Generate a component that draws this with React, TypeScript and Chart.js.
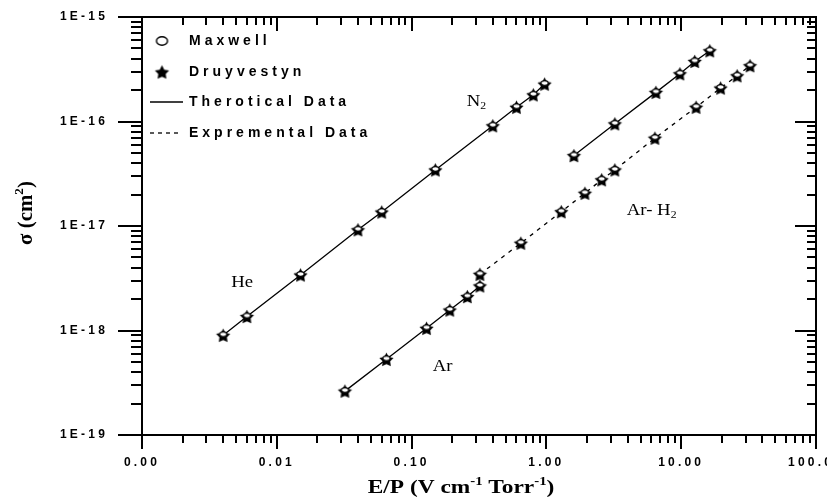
import React, { useEffect, useRef } from 'react';
import { Chart, registerables } from 'chart.js';

Chart.register(...registerables);

// ---- axis ticks ----
const xTickValues = [0.001, 0.01, 0.1, 1, 10, 100];
const xTickLabels = ['0.00', '0.01', '0.10', '1.00', '10.00', '100.00'];
const yTickValues = [1e-19, 1e-18, 1e-17, 1e-16, 1e-15];
const yTickLabels = ['1E-19', '1E-18', '1E-17', '1E-16', '1E-15'];

// ---- series (E/P, sigma) ----
const heN2X = [0.004, 0.006, 0.015, 0.04, 0.06, 0.15, 0.4, 0.6, 0.8, 0.97];
const heN2Y = [9.0e-19, 1.36e-18, 3.4e-18, 9.2e-18, 1.36e-17, 3.44e-17, 9.1e-17, 1.37e-16, 1.8e-16, 2.28e-16];
const arX = [0.032, 0.065, 0.129, 0.192, 0.259, 0.321];
const arY = [2.63e-19, 5.3e-19, 1.05e-18, 1.57e-18, 2.11e-18, 2.67e-18];
const arH2X = [0.321, 0.646, 1.29, 1.93, 2.57, 3.22, 6.38, 12.9, 19.6, 26, 32.4];
const arH2Y = [3.45e-18, 6.85e-18, 1.37e-17, 2.06e-17, 2.77e-17, 3.44e-17, 6.93e-17, 1.37e-16, 2.09e-16, 2.74e-16, 3.42e-16];
const upperX = [1.6, 3.22, 6.49, 9.78, 12.6, 16.3];
const upperY = [4.72e-17, 9.5e-17, 1.9e-16, 2.86e-16, 3.76e-16, 4.75e-16];

// ---- legend & annotations ----
const legendLabels = ['Maxwell', 'Druyvestyn', 'Therotical Data', 'Expremental Data'];
const gasNames = ['He', 'N', 'Ar', 'Ar- H'];
const gasSubs = ['', '2', '', '2'];
const gasX = [0.0046, 0.256, 0.1436, 3.95];
const gasY = [2.61e-18, 1.41e-16, 4.09e-19, 1.28e-17];

const SERIF = '"Liberation Serif", "Times New Roman", serif';
const SANS = '"Liberation Sans", Arial, sans-serif';

function isDecade(v: number) {
  const l = Math.log10(v);
  return Math.abs(l - Math.round(l)) < 1e-6;
}
function buildLogTicks(e0: number, e1: number) {
  const t: any[] = [];
  for (let e = e0; e <= e1; e++) {
    for (let s = 1; s <= 9; s++) {
      if (e === e1 && s > 1) break;
      const v = Number((s * Math.pow(10, e)).toPrecision(6));
      t.push({ value: v, major: s === 1 });
    }
  }
  return t;
}
function labelFor(v: number, vals: number[], labs: string[]) {
  for (let i = 0; i < vals.length; i++) {
    if (Math.abs(Math.log10(v) - Math.log10(vals[i])) < 1e-6) return labs[i];
  }
  return '';
}

function makeStar(r: number, inner: number) {
  const size = Math.ceil(r * 2 + 2);
  const c = document.createElement('canvas');
  c.width = size; c.height = size;
  const g = c.getContext('2d')!;
  g.translate(size / 2, size / 2 + 0.8);
  g.beginPath();
  for (let i = 0; i < 10; i++) {
    const rad = i % 2 === 0 ? r : inner;
    const a = -Math.PI / 2 + (i * Math.PI) / 5;
    const px = rad * Math.cos(a), py = rad * Math.sin(a);
    if (i === 0) g.moveTo(px, py); else g.lineTo(px, py);
  }
  g.closePath();
  g.fillStyle = '#000';
  g.fill();
  return c;
}
function makeEllipse(rx: number, ry: number, lw: number, dy: number) {
  const w = Math.ceil(rx * 2 + lw + 2), h = Math.ceil(ry * 2 + lw + 2 + Math.abs(dy) * 2);
  const c = document.createElement('canvas');
  c.width = w; c.height = h;
  const g = c.getContext('2d')!;
  g.beginPath();
  g.ellipse(w / 2, h / 2 + dy, rx, ry, 0, 0, Math.PI * 2);
  g.fillStyle = '#fff';
  g.fill();
  g.lineWidth = lw;
  g.strokeStyle = '#000';
  g.stroke();
  return c;
}

type Seg = { t: string; k?: 'sup' | 'sub' };
function drawRich(ctx: any, segs: Seg[], x: number, y: number, size: number, weight: string,
  sx: number, sy: number, align: 'left' | 'center') {
  const fMain = `${weight} ${size}px ${SERIF}`;
  const fSmall = `${weight} ${Math.round(size * 0.65)}px ${SERIF}`;
  let w = 0;
  const widths: number[] = [];
  for (const s of segs) {
    ctx.font = s.k ? fSmall : fMain;
    const m = ctx.measureText(s.t).width;
    widths.push(m);
    w += m;
  }
  ctx.save();
  ctx.translate(x, y);
  ctx.scale(sx, sy);
  ctx.textBaseline = 'alphabetic';
  ctx.textAlign = 'left';
  ctx.fillStyle = '#000';
  let cx = align === 'center' ? -w / 2 : 0;
  segs.forEach((s, i) => {
    ctx.font = s.k ? fSmall : fMain;
    const dy = s.k === 'sup' ? -size * 0.42 : s.k === 'sub' ? size * 0.22 : 0;
    ctx.fillText(s.t, cx, dy);
    cx += widths[i];
  });
  ctx.restore();
}

export default function App() {
  const ref = useRef<HTMLCanvasElement | null>(null);

  useEffect(() => {
    const canvas = ref.current;
    if (!canvas) return;
    const star = makeStar(7.5, 3.9);
    const oval = makeEllipse(3.6, 2.3, 1.2, -1);
    const legendOval = makeEllipse(5.5, 4.2, 1.4, 0);

    const series = [
      { xs: heN2X, ys: heN2Y, dash: [] as number[] },
      { xs: arX, ys: arY, dash: [] as number[] },
      { xs: arH2X, ys: arH2Y, dash: [4, 5] },
      { xs: upperX, ys: upperY, dash: [] as number[] },
    ];
    const datasets: any[] = [];
    series.forEach((s) => {
      const pts = s.xs.map((x, i) => ({ x, y: s.ys[i] }));
      datasets.push({
        data: pts, showLine: true, borderColor: '#000', borderWidth: 1.3, borderDash: s.dash,
        pointStyle: star, pointRadius: 5, order: 2,
      });
      datasets.push({
        data: pts, showLine: false, pointStyle: oval, pointRadius: 5, order: 1,
      });
    });

    const decor = {
      id: 'decor',
      beforeDraw(chart: any) { chart.ctx.letterSpacing = '3.2px'; },
      beforeDatasetsDraw(chart: any) { chart.ctx.letterSpacing = '0px'; },
      afterDraw(chart: any) {
        const ctx = chart.ctx;
        const { left, right, top, bottom } = chart.chartArea;
        const xs = chart.scales.x, ys = chart.scales.y;
        ctx.save();
        ctx.letterSpacing = '0px';
        ctx.strokeStyle = '#000';
        ctx.lineWidth = 2;
        const line = (a: number, b: number, c: number, d: number) => {
          ctx.beginPath(); ctx.moveTo(a, b); ctx.lineTo(c, d); ctx.stroke();
        };
        xs.ticks.forEach((t: any) => {
          const p = Math.round(xs.getPixelForValue(t.value));
          const mj = isDecade(t.value);
          line(p, bottom, p, bottom + (mj ? 14 : 8));
          line(p, top, p, top + (mj ? 14 : 8));
        });
        ys.ticks.forEach((t: any) => {
          const p = Math.round(ys.getPixelForValue(t.value));
          const mj = isDecade(t.value);
          line(left - (mj ? 24 : 11), p, left, p);
          line(right, p, right - (mj ? 21 : 9), p);
        });
        ctx.strokeRect(left, top, right - left, bottom - top);

        // legend
        const lx = left + 8;
        ctx.drawImage(legendOval, lx + 12 - legendOval.width / 2, 41 - legendOval.height / 2);
        ctx.drawImage(star, lx + 12 - star.width / 2, 72 - star.height / 2);
        ctx.lineWidth = 1.3;
        line(lx, 102, lx + 33, 102);
        ctx.setLineDash([4, 4]);
        line(lx, 133, lx + 31, 133);
        ctx.setLineDash([]);
        ctx.letterSpacing = '4px';
        ctx.font = `bold 14px ${SANS}`;
        ctx.fillStyle = '#000';
        ctx.textBaseline = 'middle';
        ctx.textAlign = 'left';
        const ly = [41, 72, 102, 133];
        legendLabels.forEach((t, i) => ctx.fillText(t, lx + 39, ly[i]));
        ctx.letterSpacing = '0px';

        // gas annotations
        gasNames.forEach((n, i) => {
          const px = xs.getPixelForValue(gasX[i]);
          const py = ys.getPixelForValue(gasY[i]);
          const segs: Seg[] = [{ t: n }];
          if (gasSubs[i]) segs.push({ t: gasSubs[i], k: 'sub' });
          drawRich(ctx, segs, px, py, 16, 'normal', 1.17, 1, 'left');
        });

        // axis titles
        drawRich(ctx, [
          { t: 'E/P (V cm' }, { t: '-1', k: 'sup' }, { t: ' Torr' }, { t: '-1', k: 'sup' }, { t: ')' },
        ], 461, 493, 19, 'bold', 1.23, 1, 'center');
        ctx.save();
        ctx.translate(32, 213);
        ctx.rotate(-Math.PI / 2);
        drawRich(ctx, [{ t: 'σ (cm' }, { t: '2', k: 'sup' }, { t: ')' }], 0, 0, 19, 'bold', 1.1, 1.1, 'center');
        ctx.restore();
        ctx.restore();
      },
    };

    const tickFont = { family: SANS, size: 12, weight: 'bold' as const };
    const chart = new Chart(canvas, {
      type: 'scatter',
      data: { datasets },
      options: {
        animation: false,
        responsive: false,
        devicePixelRatio: 1,
        layout: { padding: { top: 17, right: 11, left: 0, bottom: 0 } },
        plugins: { legend: { display: false }, tooltip: { enabled: false }, title: { display: false } },
        scales: {
          x: {
            type: 'logarithmic', position: 'bottom', min: 0.001, max: 100,
            afterBuildTicks: (s: any) => { s.ticks = buildLogTicks(-3, 2); },
            afterFit: (s: any) => { s.height = 65; s.paddingLeft = 0; s.paddingRight = 0; },
            grid: { display: false, drawTicks: false },
            border: { display: false },
            ticks: {
              autoSkip: false, maxRotation: 0, minRotation: 0, padding: 20, color: '#000', font: tickFont,
              callback: (v: any) => labelFor(Number(v), xTickValues, xTickLabels),
            },
          },
          y: {
            type: 'logarithmic', position: 'left', min: 1e-19, max: 1e-15,
            afterBuildTicks: (s: any) => { s.ticks = buildLogTicks(-19, -15); },
            afterFit: (s: any) => { s.width = 142; s.paddingTop = 0; s.paddingBottom = 0; },
            grid: { display: false, drawTicks: false },
            border: { display: false },
            ticks: {
              autoSkip: false, padding: 34, color: '#000', font: tickFont,
              callback: (v: any) => labelFor(Number(v), yTickValues, yTickLabels),
            },
          },
        },
      } as any,
      plugins: [decor],
    });
    return () => chart.destroy();
  }, []);

  return (
    <div style={{ position: 'absolute', left: 0, top: 0, width: 827, height: 500, background: '#fff' }}>
      <canvas ref={ref} width={827} height={500} style={{ display: 'block', width: 827, height: 500 }} />
    </div>
  );
}
